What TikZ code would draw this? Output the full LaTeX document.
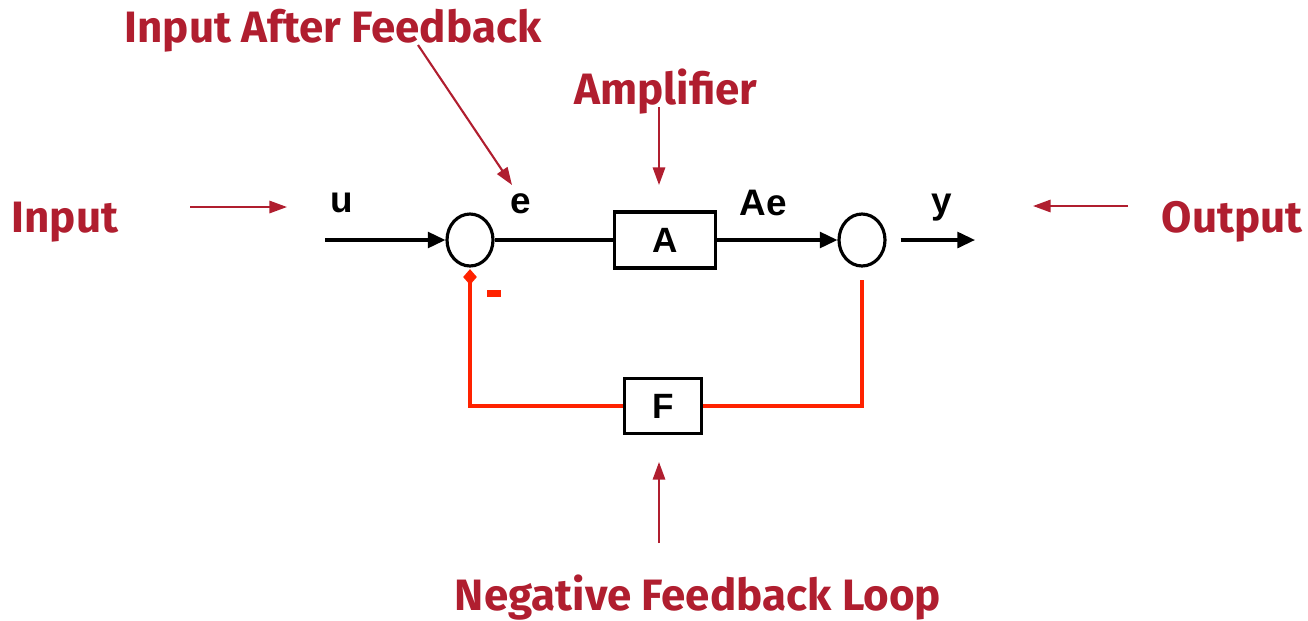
\documentclass[tikz,border=0pt]{standalone}
\usepackage{fontspec}
\setmainfont{Liberation Sans}
\newfontfamily\annfont{Fira Sans}
\usetikzlibrary{arrows.meta,shapes.geometric}
\definecolor{annred}{HTML}{B01E2F}
\definecolor{fbred}{HTML}{FF2200}
\begin{document}
\begin{tikzpicture}[x=0.02cm,y=-0.02cm,
  sumnode/.style={draw,ellipse,line width=1.8pt,minimum width=0.92cm,minimum height=1.04cm,inner sep=0pt},
  blk/.style={draw,line width=1.8pt,inner sep=0pt,font=\fontsize{20}{24}\selectfont\bfseries},
  sig/.style={line width=1.8pt,-{Triangle[length=10pt,width=9pt]}},
  lbl/.style={font=\fontsize{21}{25}\selectfont\bfseries},
  ann/.style={text=annred,font=\annfont\fontsize{25}{30}\selectfont\bfseries},
  annarrow/.style={draw=annred,line width=1.2pt,-{Triangle[length=10pt,width=7pt]}},
  fb/.style={draw=fbred,line width=2pt}]
\useasboundingbox (0,0) rectangle (1308,620);
\node[sumnode] (s1) at (470,240) {};
\node[sumnode] (s2) at (862,240) {};
\node[blk,minimum width=2.02cm,minimum height=1.12cm] (A) at (665,240) {A};
\node[blk,minimum width=1.54cm,minimum height=1.1cm] (F) at (663,406) {F};
\coordinate (in) at (325,240);
\coordinate (out) at (975,240);
\draw[sig] (in) -- (s1.west);
\draw[line width=1.8pt] (s1.east) -- (A.west);
\draw[sig] (A.east) -- (s2.west);
\draw[sig] ([xshift=0.28cm]s2.east) -- (out);
% feedback
\coordinate (fbs) at (862,280);
\coordinate (fbe) at (470,277);
\draw[fb] (fbs) |- (F.east);
\draw[fb] (F.west) -| (fbe);
\node[fill=fbred,diamond,inner sep=0pt,minimum width=0.28cm,minimum height=0.32cm] (dia) at (fbe) {};
\node[fill=fbred,inner sep=0pt,minimum width=0.28cm,minimum height=0.14cm] (minus) at (494,293) {};
% labels
\node[lbl] (lu) at (342,203) {u};
\node[lbl] (le) at (521,204) {e};
\node[lbl] (lAe) at (763,203) {Ae};
\node[lbl] (ly) at (942,208) {y};
% annotations
\node[ann] (tIAF) at (333,31) {Input After Feedback};
\node[ann] (tAmp) at (666,92) {Amplifier};
\node[ann] (tIn) at (65,222) {Input};
\node[ann] (tOut) at (1232,222) {Output};
\node[ann] (tNFL) at (698,598) {Negative Feedback Loop};
\coordinate (a1s) at (418,45); \coordinate (a1e) at (512,185);
\draw[annarrow] (a1s) -- (a1e);
\coordinate (a2s) at (659,107); \coordinate (a2e) at (659,185);
\draw[annarrow] (a2s) -- (a2e);
\coordinate (a3s) at (190,207); \coordinate (a3e) at (287,207);
\draw[annarrow] (a3s) -- (a3e);
\coordinate (a4s) at (1128,206); \coordinate (a4e) at (1033,206);
\draw[annarrow] (a4s) -- (a4e);
\coordinate (a5s) at (659,543); \coordinate (a5e) at (659,462);
\draw[annarrow] (a5s) -- (a5e);
\end{tikzpicture}
\end{document}
